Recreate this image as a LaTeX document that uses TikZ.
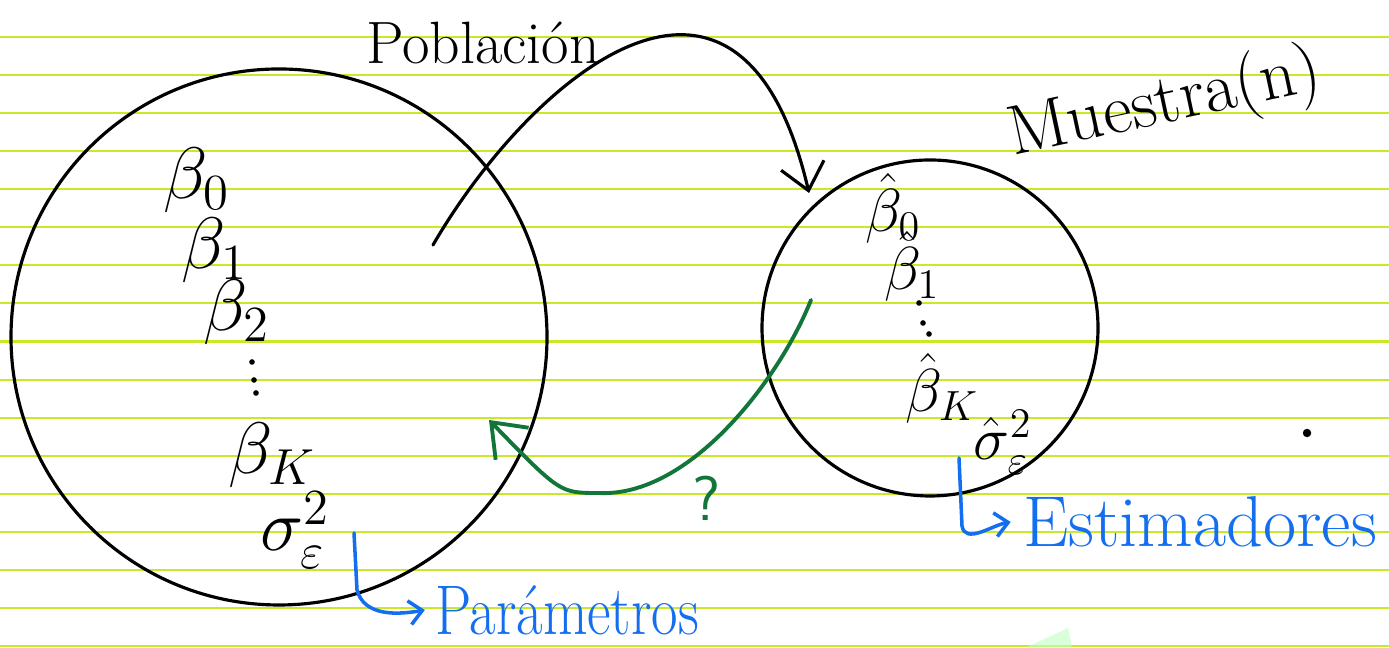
\documentclass[tikz,border=0pt]{standalone}
\usepackage{amsmath,amssymb}
\usepackage{tikz}
\usetikzlibrary{arrows.meta,positioning,calc}

\definecolor{ruleline}{RGB}{200,232,40}
\definecolor{inkgreen}{RGB}{18,118,58}
\definecolor{inkblue}{RGB}{20,110,240}

\begin{document}
\begin{tikzpicture}[
    ink/.style={line width=0.9pt, line cap=round},
    param/.style={font=\fontsize{22}{24}\selectfont},
    estim/.style={font=\fontsize{18}{20}\selectfont},
    word/.style={font=\fontsize{17}{20}\selectfont},
    hook/.style={inkblue, line width=1pt, line cap=round, -{Straight Barb[length=1.3mm,width=2.4mm]}}
  ]
    \useasboundingbox (0,0) rectangle (13.89,6.48);
    \fill[white] (0,0) rectangle (13.89,6.48);

    % Ruled paper
    \foreach \k in {0,...,16}
        \draw[ruleline, line width=0.6pt] (0,{6.113-0.381*\k}) -- (13.89,{6.113-0.381*\k});
    \fill[green!25, opacity=0.6] (10.25,0) -- (10.68,0.2) -- (10.72,0) -- cycle;

    % Population and sample
    \node[draw, ink, circle, minimum size=5.36cm] (pob) at (2.79,3.11) {};
    \node[draw, ink, circle, minimum size=3.36cm] (mue) at (9.30,3.20) {};
    \node[word] (pobtxt) at (4.83,6.05) {Población};
    \node[word, font=\fontsize{20}{22}\selectfont, rotate=12] (muetxt) at (11.65,5.43) {Muestra(n)};

    % Parameters
    \node[param] (b0) at (1.97,4.68) {$\beta_0$};
    \node[param] (b1) at (2.15,3.98) {$\beta_1$};
    \node[param] (b2) at (2.37,3.36) {$\beta_2$};
    \foreach \x/\y in {2.52/2.86, 2.54/2.68, 2.56/2.55}
        \fill (\x,\y) circle (0.8pt);
    \node[param] (bk) at (2.72,1.93) {$\beta_K$};
    \node[param] (s2) at (2.95,1.18) {$\sigma^2_\varepsilon$};

    % Estimators
    \node[estim] (hb0) at (8.93,4.40) {$\hat\beta_0$};
    \node[estim] (hb1) at (9.12,3.82) {$\hat\beta_1$};
    \foreach \x/\y in {9.19/3.45, 9.23/3.25, 9.29/3.14}
        \fill (\x,\y) circle (0.8pt);
    \node[estim] (hbk) at (9.42,2.60) {$\hat\beta_K$};
    \node[estim] (hs2) at (10.03,2.06) {$\hat\sigma^2_\varepsilon$};

    % Sampling arrow
    \coordinate (drawfrom) at (4.33,4.03);
    \coordinate (drawto) at (8.09,4.55);
    \draw[ink, -{Straight Barb[length=2.6mm,width=4.4mm]}] (drawfrom) .. controls (5.3,5.7) and (7.4,7.5) .. (drawto);

    % Inference arrow
    \coordinate (inffrom) at (8.11,3.48);
    \coordinate (infbot) at (5.98,1.55);
    \coordinate (infto) at (4.89,2.28);
    \draw[inkgreen, line width=1.1pt, line cap=round, -{Straight Barb[length=3mm,width=4.6mm]}]
        (inffrom) .. controls (7.8,2.7) and (6.9,1.5) .. (infbot)
        .. controls (5.6,1.55) .. (infto);
    \node[inkgreen, word, font=\fontsize{18}{20}\selectfont\sffamily] (ask) at (7.07,1.50) {?};

    % Labels
    \node[inkblue, word, font=\fontsize{20}{22}\selectfont, xscale=0.82] (partxt) at (5.67,0.38) {Parámetros};
    \node[inkblue, word, font=\fontsize{20.5}{23}\selectfont] (esttxt) at (12.0,1.26) {Estimadores};
    \coordinate (parfrom) at (3.54,1.15);
    \coordinate (estfrom) at (9.59,1.90);
    \draw[hook] (parfrom) -- (3.57,0.58) to[out=-75,in=190] (partxt.west);
    \draw[hook] (estfrom) -- (9.62,1.22) to[out=-80,in=190] (esttxt.west);

    % stray dot
    \fill (13.07,2.15) circle (1.2pt);
\end{tikzpicture}
\end{document}
